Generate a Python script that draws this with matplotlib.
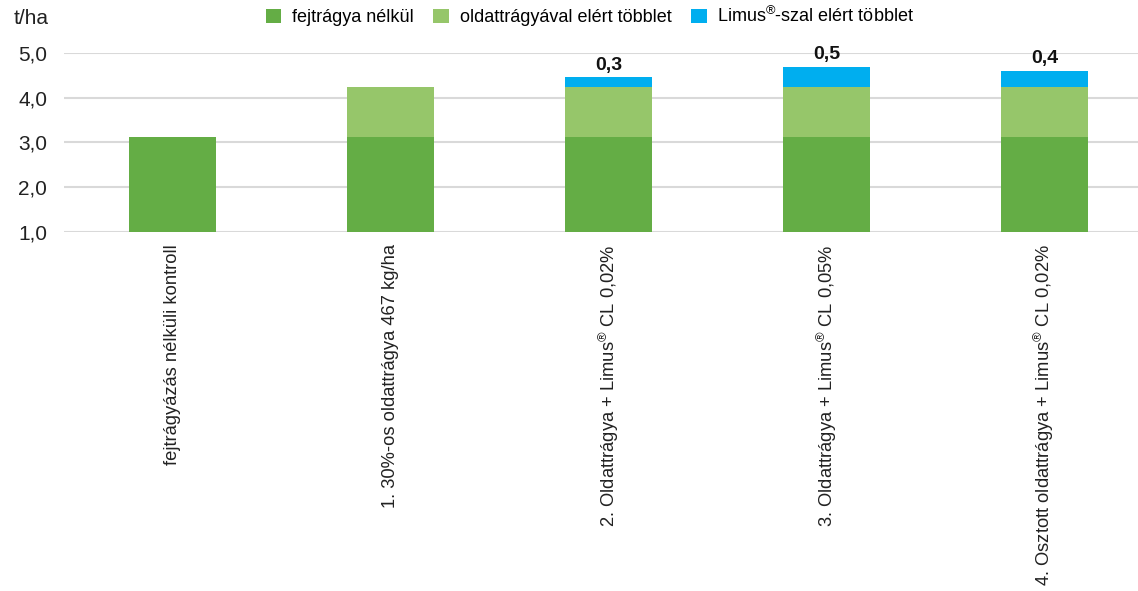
import numpy as np
import matplotlib
matplotlib.use("Agg")
import matplotlib.pyplot as plt

plt.rcParams['font.family'] = ['Liberation Sans', 'DejaVu Sans']
plt.rcParams['mathtext.fontset'] = 'custom'
plt.rcParams['mathtext.rm'] = 'Liberation Sans'

# data
categories = ["fejtrágyázás nélküli kontroll",
              "1. 30%-os oldattrágya 467 kg/ha",
              r"2. Oldattrágya + Limus$^{\mathrm{®}}$ CL 0,02%",
              r"3. Oldattrágya + Limus$^{\mathrm{®}}$ CL 0,05%",
              r"4. Osztott oldattrágya + Limus$^{\mathrm{®}}$ CL 0,02%"]
base = [3.12, 3.12, 3.12, 3.12, 3.12]
oldat = [0.0, 1.12, 1.12, 1.12, 1.12]
limus = [0.0, 0.0, 0.22, 0.45, 0.36]
limus_labels = ["", "", "0,3", "0,5", "0,4"]
yticks = [1.0, 2.0, 3.0, 4.0, 5.0]
series_names = ["fejtrágya nélkül", "oldattrágyával elért többlet",
                r"Limus$^{\mathrm{®}}$-szal elért többlet"]

c_base = "#64ad45"
c_old = "#96c66a"
c_lim = "#00aeef"

fig = plt.figure(figsize=(11.38, 5.91), dpi=100)
ax = fig.add_axes([64/1138, 1-232/591, 1-64/1138, (232-53)/591])

x = np.arange(len(categories))
w = 0.4
b = np.array(base)
o = np.array(oldat)
l = np.array(limus)
ax.bar(x, b - 1.0, w, bottom=1.0, color=c_base, label=series_names[0], zorder=3)
ax.bar(x, o, w, bottom=b, color=c_old, label=series_names[1], zorder=3)
ax.bar(x, l, w, bottom=b + o, color=c_lim, label=series_names[2], zorder=3)

for i in range(len(x)):
    if limus_labels[i]:
        ax.text(x[i], b[i] + o[i] + l[i] + 0.08, limus_labels[i], ha='center', va='bottom',
                fontsize=14, fontweight='bold', color="#111111", clip_on=False)

ax.set_ylim(1.0, 5.0)
ax.set_xlim(-0.5, 4.43)
ax.set_yticks(yticks)
ax.set_yticklabels([f"{v:.1f}".replace(".", ",") for v in yticks], fontsize=15, color="#222222")
ax.set_xticks(x)
ax.set_xticklabels(categories, rotation=90, va='top', ha='center', fontsize=13.2, color="#222222")
ax.tick_params(axis='both', length=0)
ax.tick_params(axis='x', pad=9)
ax.tick_params(axis='y', pad=12)
for s in ax.spines.values():
    s.set_visible(False)
ax.grid(axis='y', color='#d9d9d9', linewidth=1.5, zorder=0)
ax.set_axisbelow(True)

fig.text(14/1138, 1-18/591, "t/ha", fontsize=15, va='center', ha='left', color="#222222")

fig.legend(loc='center', bbox_to_anchor=(590/1138, 1-16/591), ncol=3, frameon=False,
           fontsize=13, handlelength=0.85, handleheight=0.85, handletextpad=0.6, columnspacing=1.1)

fig.savefig("out.png", dpi=100)
